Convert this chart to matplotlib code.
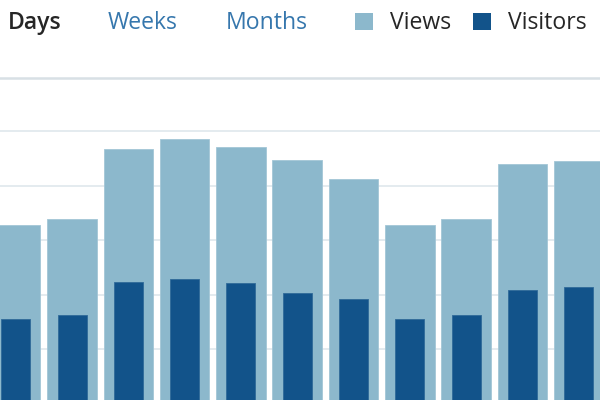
import matplotlib
matplotlib.use('Agg')
import matplotlib.pyplot as plt
from matplotlib.patches import Rectangle
import numpy as np

# values (one bar per day)
views = [32.8, 33.9, 46.7, 48.5, 47.1, 44.7, 41.2, 32.8, 33.9, 44.0, 44.5]
visitors = [15.6, 16.3, 22.3, 22.9, 22.2, 20.3, 19.2, 15.6, 16.3, 20.9, 21.4]
grid_values = [10, 20, 30, 40, 50]
top_grid = 59.8
tabs = ['Days', 'Weeks', 'Months']
series_names = ['Views', 'Visitors']

light = '#8cb8cc'
dark = '#12538a'
tab_blue = '#3677ad'
text_dark = '#262626'

plt.rcParams['font.family'] = ['Open Sans', 'DejaVu Sans']

W, H = 600, 400
fig = plt.figure(figsize=(6, 4), dpi=100)
ax = fig.add_axes([0, 0, 1, 1])

x = np.arange(len(views))
for g in grid_values:
    ax.axhline(g, color='#dde6eb', lw=1.1, zorder=0)
ax.axhline(top_grid, color='#d8e0e5', lw=1.8, zorder=0)

ax.bar(x, views, width=0.88, color=light, edgecolor='#a3c6d6', lw=0.6, zorder=2)
ax.bar(x, visitors, width=0.515, color=dark, edgecolor='#2f6a99', lw=0.6, zorder=3)

ax.set_xlim(-0.279, 10.378)
ax.set_ylim(0.73, 74.0)
ax.axis('off')


def px(xp, yp):
    return xp / W, 1 - yp / H


fs = 16.6
tab_x = [8, 108, 226]
for i, (label, xp) in enumerate(zip(tabs, tab_x)):
    fig.text(*px(xp, 29), label, fontsize=fs, va='baseline', ha='left',
             color=text_dark if i == 0 else tab_blue,
             fontweight='semibold' if i == 0 else 'normal')

sq_x = [355, 473]
txt_x = [390, 508]
for name, col, sx, tx in zip(series_names, [light, dark], sq_x, txt_x):
    fig.patches.append(Rectangle(px(sx, 30), 18 / W, 17 / H, transform=fig.transFigure,
                                 facecolor=col, edgecolor='none'))
    fig.text(*px(tx, 29), name, fontsize=fs, va='baseline', ha='left', color=text_dark)

fig.savefig('out.png', dpi=100)
